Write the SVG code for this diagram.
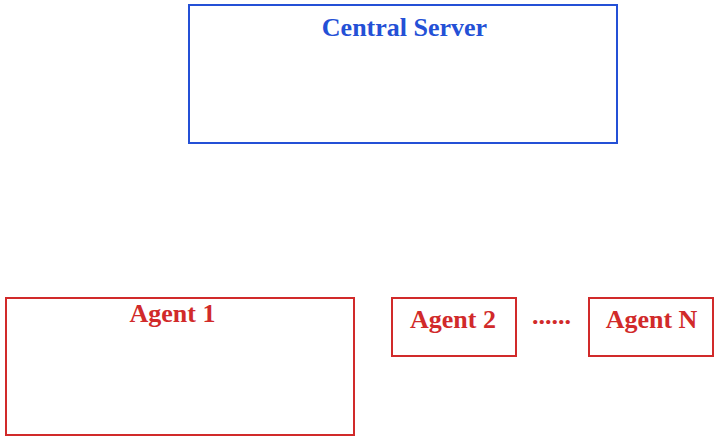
<svg xmlns="http://www.w3.org/2000/svg" width="720" height="441" viewBox="0 0 720 441">
<style>
.box{fill:#ffffff;stroke-width:2}
.srv{stroke:#2450d6}
.agt{stroke:#d12a2a}
.lbl{font-family:"Liberation Serif","Times New Roman",serif;font-weight:bold;font-size:26px;text-anchor:middle}
.ls{fill:#2450d6}
.la{fill:#d12a2a}
</style>
<rect width="720" height="441" fill="#ffffff"/>
<g id="central-server">
<rect class="box srv" x="189" y="5" width="428" height="138"/>
<text class="lbl ls" x="404.5" y="35.5">Central Server</text>
</g>
<g id="agent-1">
<rect class="box agt" x="6" y="298" width="348" height="137"/>
<text class="lbl la" x="172.5" y="321.5">Agent 1</text>
</g>
<g id="agent-2">
<rect class="box agt" x="392" y="298" width="124" height="58"/>
<text class="lbl la" x="453" y="327.5">Agent 2</text>
</g>
<g id="ellipsis">
<text class="lbl la" x="551.5" y="323.5">......</text>
</g>
<g id="agent-n">
<rect class="box agt" x="589" y="298" width="124" height="58"/>
<text class="lbl la" x="651.5" y="327.5">Agent N</text>
</g>
<g id="connectors"></g>
</svg>
